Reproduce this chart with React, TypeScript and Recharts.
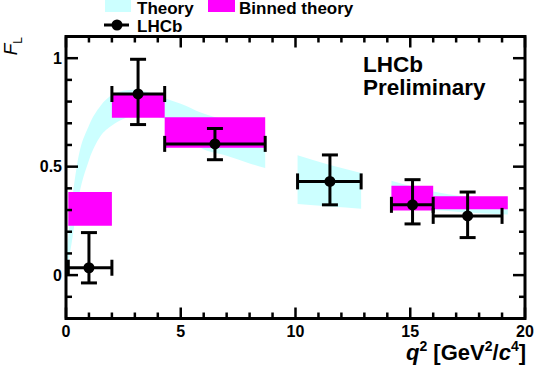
import React from 'react';
import { ComposedChart, Area, Scatter, ErrorBar, XAxis, YAxis, ReferenceArea } from 'recharts';

const FONT = '"Liberation Sans", Arial, Helvetica, sans-serif';
const CYAN = '#ccffff';
const MAGENTA = '#ff00ff';

// ---- Theory band (three q2 regions) ----
const band1X = [0.05, 0.25, 0.5, 1.0, 1.5, 2.0, 2.5, 3.0, 3.5, 4.3, 5.0, 5.87, 7.0, 8.0, 8.68];
const band1Lo = [0.03, 0.15, 0.33, 0.53, 0.64, 0.69, 0.72, 0.735, 0.735, 0.72, 0.66, 0.587, 0.55, 0.515, 0.494];
const band1Hi = [0.12, 0.33, 0.52, 0.69, 0.78, 0.83, 0.85, 0.855, 0.845, 0.815, 0.79, 0.75, 0.715, 0.69, 0.67];
const band2X = [10.09, 11.5, 12.86];
const band2Lo = [0.328, 0.316, 0.306];
const band2Hi = [0.552, 0.508, 0.471];
const band3X = [14.18, 16.0, 17.3, 19.25];
const band3Lo = [0.31, 0.3, 0.29, 0.28];
const band3Hi = [0.435, 0.386, 0.363, 0.345];

// ---- Binned theory boxes ----
const binX1 = [0.1, 2.0, 4.3, 14.18, 16.0];
const binX2 = [2.0, 4.3, 8.68, 16.0, 19.25];
const binLo = [0.227, 0.725, 0.587, 0.298, 0.304];
const binHi = [0.383, 0.835, 0.728, 0.412, 0.363];

// ---- LHCb measurements ----
const lhcbBinLo = [0.1, 2.0, 4.3, 10.09, 14.18, 16.0];
const lhcbBinHi = [2.0, 4.3, 8.68, 12.86, 16.0, 19.0];
const lhcbX = [1.0, 3.14, 6.49, 11.5, 15.1, 17.5];
const lhcbFL = [0.034, 0.835, 0.605, 0.432, 0.324, 0.273];
const lhcbFLLow = [-0.036, 0.694, 0.532, 0.324, 0.236, 0.173];
const lhcbFLHigh = [0.196, 0.995, 0.676, 0.554, 0.44, 0.383];

// ---- Axes ----
const xTicks = [0, 1, 2, 3, 4, 5, 6, 7, 8, 9, 10, 11, 12, 13, 14, 15, 16, 17, 18, 19, 20];
const xLabels = [0, 5, 10, 15, 20];
const yTicks = [-0.2, -0.1, 0, 0.1, 0.2, 0.3, 0.4, 0.5, 0.6, 0.7, 0.8, 0.9, 1.0, 1.1];
const yLabels = [0, 0.5, 1];

const bandRows: any[] = [];
const pushSeg = (xs: number[], lo: number[], hi: number[]) => {
  xs.forEach((x, i) => bandRows.push({ x, band: [lo[i], hi[i]] }));
};
pushSeg(band1X, band1Lo, band1Hi);
bandRows.push({ x: 9.4, band: null });
pushSeg(band2X, band2Lo, band2Hi);
bandRows.push({ x: 13.5, band: null });
pushSeg(band3X, band3Lo, band3Hi);

const points = lhcbX.map((x, i) => ({
  x,
  y: lhcbFL[i],
  ex: [x - lhcbBinLo[i], lhcbBinHi[i] - x],
  ey: [lhcbFL[i] - lhcbFLLow[i], lhcbFLHigh[i] - lhcbFL[i]],
}));

const isXMajor = (v: number) => xLabels.includes(v);
const isYMajor = (v: number) => yLabels.some((l) => Math.abs(l - v) < 1e-6);

const TickBottom = (p: any) => {
  const { x, y, payload } = p;
  const major = isXMajor(payload.value);
  return (
    <g>
      <line x1={x} x2={x} y1={y} y2={y - (major ? 11 : 6)} stroke="#000" strokeWidth={2.5} />
      {major && (
        <text x={x} y={y + 18} textAnchor="middle" fontFamily={FONT} fontWeight="bold" fontSize={16} fill="#000">
          {payload.value}
        </text>
      )}
    </g>
  );
};
const TickTop = (p: any) => {
  const { x, y, payload } = p;
  const major = isXMajor(payload.value);
  return <line x1={x} x2={x} y1={y} y2={y + (major ? 11 : 6)} stroke="#000" strokeWidth={2.5} />;
};
const TickLeft = (p: any) => {
  const { x, y, payload } = p;
  const major = isYMajor(payload.value);
  return (
    <g>
      <line x1={x} x2={x + (major ? 12 : 6)} y1={y} y2={y} stroke="#000" strokeWidth={2.5} />
      {major && (
        <text x={x - 4} y={y + 5.5} textAnchor="end" fontFamily={FONT} fontWeight="bold" fontSize={16} fill="#000">
          {String(yLabels.find((l) => Math.abs(l - payload.value) < 1e-6))}
        </text>
      )}
    </g>
  );
};
const TickRight = (p: any) => {
  const { x, y, payload } = p;
  const major = isYMajor(payload.value);
  return <line x1={x} x2={x - (major ? 12 : 6)} y1={y} y2={y} stroke="#000" strokeWidth={2.5} />;
};

const Dot = (p: any) => <circle cx={p.cx} cy={p.cy} r={5.5} fill="#000" />;

export default function App() {
  return (
    <div style={{ position: 'absolute', left: 0, top: 0, width: 535, height: 369, background: '#fff' }}>
      <ComposedChart
        width={535}
        height={369}
        data={bandRows}
        margin={{ top: 0, right: 0, bottom: 0, left: 0 }}
      >
        <XAxis
          xAxisId="b"
          type="number"
          dataKey="x"
          domain={[0, 20]}
          ticks={xTicks}
          interval={0}
          height={50.5}
          tickSize={0}
          tickMargin={0}
          axisLine={false}
          tickLine={false}
          tick={TickBottom}
          allowDataOverflow
        />
        <XAxis
          xAxisId="t"
          orientation="top"
          type="number"
          dataKey="x"
          domain={[0, 20]}
          ticks={xTicks}
          interval={0}
          height={36.5}
          tickSize={0}
          tickMargin={0}
          axisLine={false}
          tickLine={false}
          tick={TickTop}
          allowDataOverflow
        />
        <YAxis
          yAxisId="l"
          type="number"
          domain={[-0.2, 1.1]}
          ticks={yTicks}
          interval={0}
          width={66}
          tickSize={0}
          tickMargin={0}
          axisLine={false}
          tickLine={false}
          tick={TickLeft}
          allowDataOverflow
        />
        <YAxis
          yAxisId="r"
          orientation="right"
          type="number"
          domain={[-0.2, 1.1]}
          ticks={yTicks}
          interval={0}
          width={10}
          tickSize={0}
          tickMargin={0}
          axisLine={false}
          tickLine={false}
          tick={TickRight}
          allowDataOverflow
        />
        <Area
          xAxisId="b"
          yAxisId="l"
          type="monotone"
          dataKey="band"
          stroke="none"
          fill={CYAN}
          fillOpacity={1}
          connectNulls={false}
          isAnimationActive={false}
          activeDot={false}
          dot={false}
        />
        {binX1.map((x1, i) => (
          <ReferenceArea
            key={i}
            xAxisId="b"
            yAxisId="l"
            x1={x1}
            x2={binX2[i]}
            y1={binLo[i]}
            y2={binHi[i]}
            fill={MAGENTA}
            fillOpacity={1}
            stroke="none"
          />
        ))}
        <Scatter
          xAxisId="b"
          yAxisId="l"
          data={points}
          dataKey="y"
          shape={Dot}
          isAnimationActive={false}
        >
          <ErrorBar dataKey="ey" direction="y" width={8} stroke="#000" strokeWidth={3} isAnimationActive={false} />
          <ErrorBar dataKey="ex" direction="x" width={8} stroke="#000" strokeWidth={3} isAnimationActive={false} />
        </Scatter>
        <ReferenceArea
          xAxisId="b"
          yAxisId="l"
          x1={0}
          x2={20}
          y1={-0.2}
          y2={1.1}
          fill="none"
          stroke="#000"
          strokeWidth={3}
        />
      </ComposedChart>
      <svg
        width={535}
        height={369}
        style={{ position: 'absolute', left: 0, top: 0, pointerEvents: 'none' }}
        fontFamily={FONT}
        fontWeight="bold"
      >
        {/* legend */}
        <rect x={105} y={0} width={26} height={12} fill={CYAN} />
        <text x={137} y={14} fontSize={17}>Theory</text>
        <rect x={208} y={0} width={27} height={12} fill={MAGENTA} />
        <text x={239} y={14} fontSize={17}>Binned theory</text>
        <line x1={104} x2={129} y1={25} y2={25} stroke="#000" strokeWidth={3} />
        <circle cx={117} cy={25} r={5.5} fill="#000" />
        <text x={137} y={32} fontSize={17}>LHCb</text>
        {/* LHCb label */}
        <text x={363} y={72} fontSize={22.5}>LHCb</text>
        <text x={363} y={95} fontSize={22.5}>Preliminary</text>
        {/* axis titles */}
        <text x={526} y={360} textAnchor="end" fontSize={22}>
          <tspan fontStyle="italic">q</tspan>
          <tspan fontSize={14} dy={-9}>2</tspan>
          <tspan dy={9}> [GeV</tspan>
          <tspan fontSize={14} dy={-9}>2</tspan>
          <tspan dy={9}>/</tspan>
          <tspan fontStyle="italic">c</tspan>
          <tspan fontSize={14} dy={-9}>4</tspan>
          <tspan dy={9}>]</tspan>
        </text>
        <text transform="translate(17,37) rotate(-90)" textAnchor="end" fontSize={19} fontWeight="normal">
          <tspan fontStyle="italic">F</tspan>
          <tspan fontSize={12} dy={5}>L</tspan>
        </text>
      </svg>
    </div>
  );
}
